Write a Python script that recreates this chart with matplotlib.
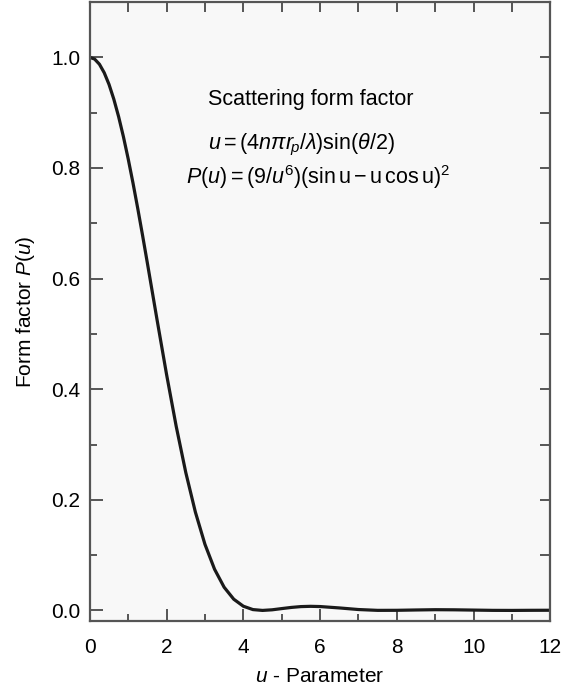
import matplotlib
matplotlib.use("Agg")
import matplotlib.pyplot as plt

# values
u_vals = [0, 0.125, 0.25, 0.375, 0.5, 0.625, 0.75, 0.875, 1.0, 1.125, 1.25,
          1.375, 1.5, 1.75, 2.0, 2.25, 2.5, 2.75, 3.0,
          3.25, 3.5, 3.75, 4.0, 4.25, 4.5, 4.75, 5.0, 5.25, 5.5, 5.75, 6.0,
          6.5, 7.0, 7.5, 8.0, 8.5, 9.0, 9.5, 10.0, 10.5, 11.0, 11.5, 12.0]
p_vals = [1.0, 0.9969, 0.9876, 0.9722, 0.9511, 0.9244, 0.8928, 0.8566, 0.8163,
          0.7727, 0.7263, 0.6778, 0.6278, 0.5262, 0.4265,
          0.3331, 0.2495, 0.1779, 0.1195, 0.0745, 0.0419, 0.0203, 0.0076,
          0.0015, 0.0000, 0.0011, 0.0033, 0.0054, 0.0069, 0.0074, 0.0070,
          0.0045, 0.0016, 0.0001, 0.0002, 0.0008, 0.0013, 0.0011, 0.0006,
          0.0001, 0.0000, 0.0002, 0.0003]

x_ticks = [0, 2, 4, 6, 8, 10, 12]
y_ticks = [0.0, 0.2, 0.4, 0.6, 0.8, 1.0]

plt.rcParams['font.family'] = 'Liberation Sans'
plt.rcParams['mathtext.fontset'] = 'custom'
plt.rcParams['mathtext.rm'] = 'Liberation Sans'
plt.rcParams['mathtext.it'] = 'Liberation Sans:italic'
plt.rcParams['mathtext.bf'] = 'Liberation Sans:bold'

fig = plt.figure(figsize=(5.65, 6.89), dpi=100)
ax = fig.add_axes([0.159, 0.098, 0.815, 0.899])
ax.set_facecolor('#f8f8f8')

ax.plot(u_vals, p_vals, color='#1a1a1a', linewidth=2.3)

ax.set_xlim(0, 12)
ax.set_ylim(-0.02, 1.10)
ax.set_xticks(x_ticks)
ax.set_xticks(range(1, 12, 2), minor=True)
ax.set_yticks(y_ticks)
ax.set_yticklabels([f'{v:.1f}' for v in y_ticks])
ax.set_yticks([0.1, 0.3, 0.5, 0.7, 0.9, 1.1], minor=True)

spine_color = '#555555'
for s in ax.spines.values():
    s.set_linewidth(1.6)
    s.set_color(spine_color)

ax.tick_params(which='major', direction='in', length=9, width=1.4,
               color=spine_color, labelsize=15)
ax.tick_params(axis='x', which='major', pad=12)
ax.tick_params(axis='y', which='major', pad=7)
ax.tick_params(which='minor', direction='in', length=5, width=1.4,
               color=spine_color)

# top and right ticks, all one length
top = ax.secondary_xaxis('top')
top.set_xticks(range(0, 13))
top.tick_params(direction='in', length=7, width=1.4, color=spine_color,
                labeltop=False)
right = ax.secondary_yaxis('right')
right.set_yticks([0.0, 0.1, 0.2, 0.3, 0.4, 0.5, 0.6, 0.7, 0.8, 0.9, 1.0])
right.tick_params(direction='in', length=7, width=1.4, color=spine_color,
                  labelright=False)
for sec in (top, right):
    for s in sec.spines.values():
        s.set_visible(False)

ax.set_xlabel(r'$u$ - Parameter', fontsize=15, labelpad=7)
ax.set_ylabel(r'Form factor $P(u)$', fontsize=15, labelpad=10)

ax.text(0.48, 0.843, 'Scattering form factor', transform=ax.transAxes,
        ha='center', va='center', fontsize=15.5)
ax.text(0.46, 0.769, r'$u = (4n\pi r_{\!p}/\lambda)\mathrm{sin}(\theta/2)$',
        transform=ax.transAxes, ha='center', va='center', fontsize=15.5)
ax.text(0.496, 0.717,
        r'$P(u) = (9/u^6)(\mathrm{sin\,u} - \mathrm{u\,cos\,u})^2$',
        transform=ax.transAxes, ha='center', va='center', fontsize=15.5)

fig.savefig('out.png', dpi=100)
